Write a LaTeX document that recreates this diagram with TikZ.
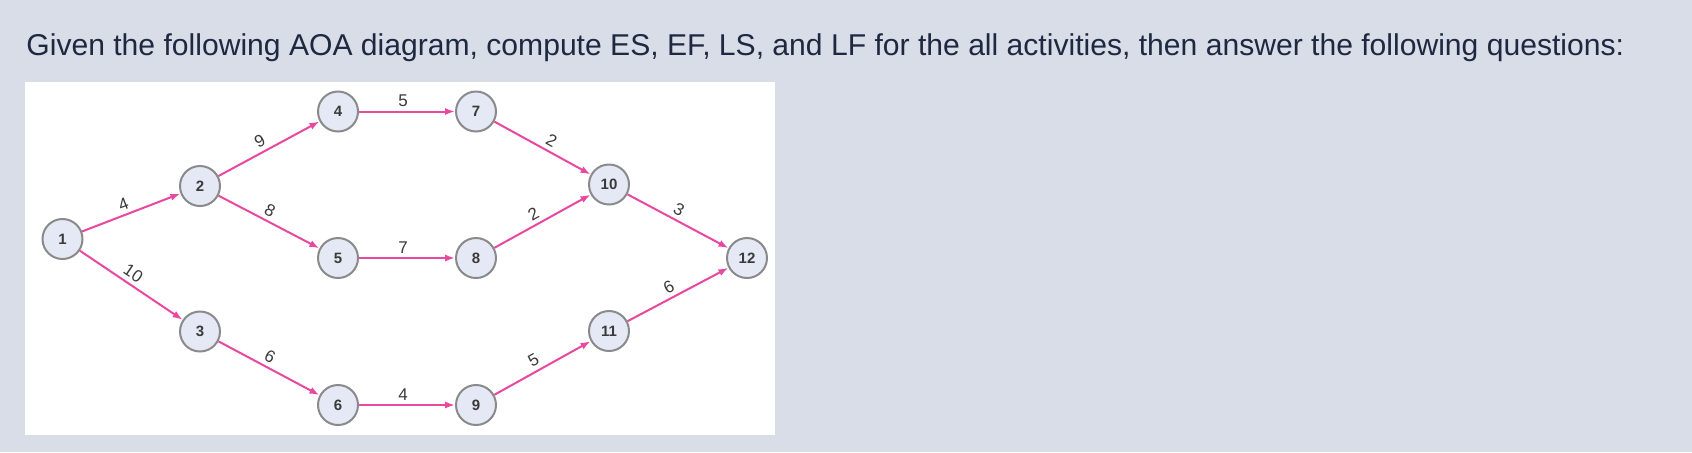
\documentclass[tikz,border=0pt]{standalone}
\usepackage{fontspec}
\setmainfont{Liberation Sans}
\usetikzlibrary{arrows.meta}
\definecolor{bgblue}{RGB}{216,221,232}
\definecolor{evfill}{RGB}{228,233,245}
\definecolor{evline}{RGB}{138,138,138}
\definecolor{actpink}{RGB}{232,72,160}
\definecolor{titleink}{RGB}{30,40,64}
\definecolor{numink}{RGB}{58,58,58}

\begin{document}
\begin{tikzpicture}[x=0.5pt, y=0.5pt,
  event/.style={circle, draw=evline, fill=evfill, line width=1pt, minimum size=20pt, inner sep=0pt, text=numink, font=\fontsize{7.5}{8}\selectfont\bfseries},
  act/.style={draw=actpink, line width=1pt, -{Latex[length=5pt, width=3.6pt]}},
  dur/.style={pos=0.46, sloped, above, inner sep=2pt, text=numink, font=\fontsize{8.5}{9}\selectfont}]
%\draw [help lines] (0,-452) grid (1692,0);
\fill [bgblue] (0,0) rectangle (1692,-452);
\fill [white] (25,-82) rectangle (775,-435);
\node [anchor=base west, inner sep=0pt, text=titleink, font=\fontsize{15.05}{18}\selectfont] (title) at (26,-55) {Given the following AOA diagram, compute ES, EF, LS, and LF for the all activities, then answer the following questions:};

%events
\node [event] (n1) at (62.5,-239) {1};
\node [event] (n2) at (200,-186) {2};
\node [event] (n3) at (200,-331.5) {3};
\node [event] (n4) at (338,-111.5) {4};
\node [event] (n5) at (338,-258) {5};
\node [event] (n6) at (338,-405) {6};
\node [event] (n7) at (476,-111.5) {7};
\node [event] (n8) at (476,-258) {8};
\node [event] (n9) at (476,-405) {9};
\node [event] (n10) at (609,-184.5) {10};
\node [event] (n11) at (609,-331) {11};
\node [event] (n12) at (747,-258) {12};

%activities
\draw [act] (n1) -- node [dur] {4} (n2);
\draw [act] (n1) -- node [dur] {10} (n3);
\draw [act] (n2) -- node [dur] {9} (n4);
\draw [act] (n2) -- node [dur] {8} (n5);
\draw [act] (n3) -- node [dur] {6} (n6);
\draw [act] (n4) -- node [dur] {5} (n7);
\draw [act] (n5) -- node [dur] {7} (n8);
\draw [act] (n6) -- node [dur] {4} (n9);
\draw [act] (n7) -- node [dur, pos=0.54] {2} (n10);
\draw [act] (n8) -- node [dur] {2} (n10);
\draw [act] (n9) -- node [dur] {5} (n11);
\draw [act] (n10) -- node [dur] {3} (n12);
\draw [act] (n11) -- node [dur] {6} (n12);
\end{tikzpicture}
\end{document}
